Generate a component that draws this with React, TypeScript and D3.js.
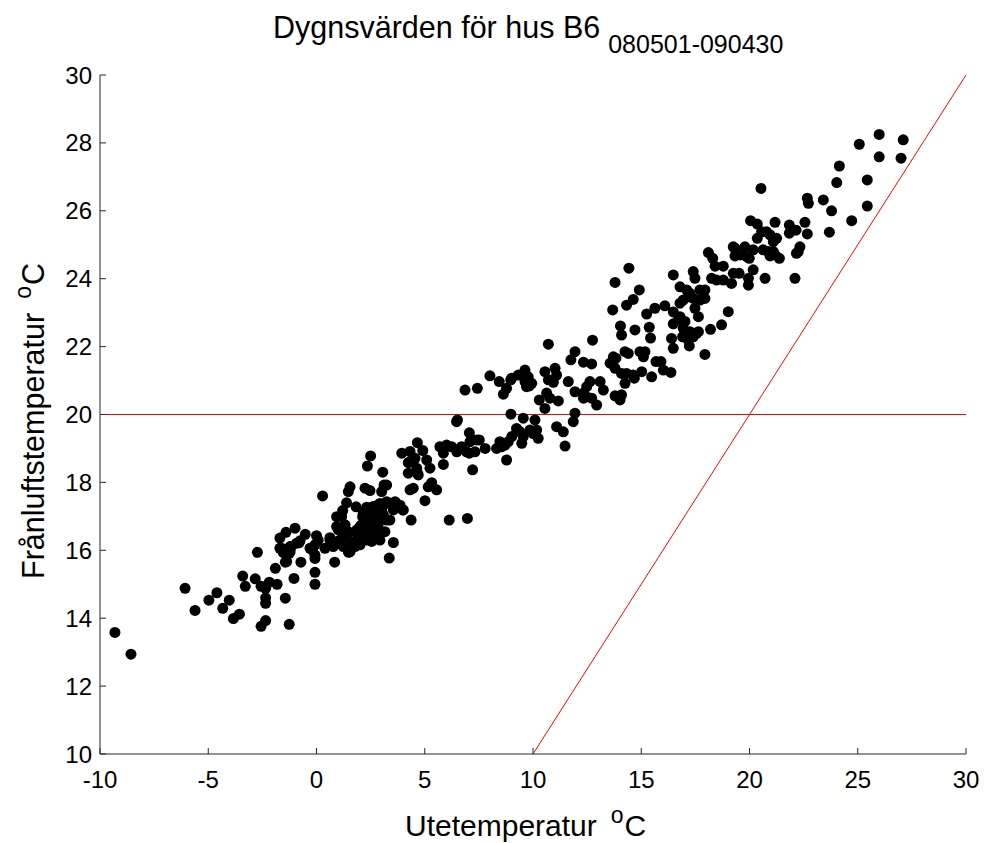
import React from 'react';
import * as d3 from 'd3';

// Tick values
const xTicks = [-10, -5, 0, 5, 10, 15, 20, 25, 30];
const yTicks = [10, 12, 14, 16, 18, 20, 22, 24, 26, 28, 30];

// Reference lines
const setpointLevel = 20; // horizontal red line
const identityLine: [number, number][] = [[10, 10], [30, 30]]; // y = x

// Daily values: [Utetemperatur, Frånluftstemperatur]
const dailyValues: [number, number][] = [
  [-9.31,13.58],[-8.57,12.94],[-6.07,14.88],[-5.61,14.23],[-4.97,14.53],[-4.60,14.75],[-4.33,14.29],[-4.03,14.53],
  [-3.84,13.99],[-3.56,14.12],[-3.41,15.24],[-3.29,14.94],[-2.83,15.16],[-2.73,15.94],[-2.56,14.94],[-2.35,14.88],
  [-2.18,15.06],[-2.35,14.44],[-2.35,13.93],[-2.56,13.76],[-1.82,15.0],[-1.90,15.47],[-1.44,14.59],[-1.26,13.82],
  [-1.44,15.65],[-1.04,15.17],[-0.72,15.65],[-1.61,16.06],[-1.26,15.91],[-1.18,16.09],[-0.07,15.0],[-0.07,15.35],
  [-0.07,15.76],[-0.19,16.01],[0.84,15.65],[1.49,15.94],[0.39,16.06],[-0.81,16.22],[-1.53,15.93],[-2.35,14.6],
  [-1.69,16.36],[-1.41,16.53],[-0.99,16.65],[-0.76,16.28],[-0.52,16.47],[-0.07,15.86],[-0.30,16.06],[0.08,16.30],
  [0.0,16.43],[0.62,16.37],[0.93,16.21],[1.16,16.32],[1.24,16.11],[1.01,16.60],[1.55,15.96],[1.82,16.23],
  [1.32,16.75],[0.93,16.99],[1.21,17.17],[1.39,17.40],[1.83,17.28],[1.86,16.50],[0.28,17.60],
  [6.47,19.79],[7.06,19.46],[7.40,19.25],[7.09,19.20],[4.66,19.17],[3.94,18.86],[4.32,18.91],[4.91,18.94],
  [4.24,18.58],[4.63,18.42],[4.66,18.27],[5.09,18.66],[5.24,18.42],[5.70,19.05],[6.01,19.10],[5.86,18.86],
  [6.48,18.90],[6.93,18.90],[7.32,18.90],[5.86,18.53],[7.21,18.37],[2.50,18.78],[2.35,18.48],[3.06,18.30],
  [3.12,17.92],[3.01,17.73],[3.24,17.92],[1.55,17.87],[1.47,17.73],[2.24,17.83],[2.47,17.76],
  [2.32,17.27],[2.62,17.29],[2.93,17.38],[3.01,17.21],[3.24,17.43],[3.63,17.43],[3.86,17.33],[3.55,17.19],
  [3.98,17.19],[2.13,16.99],[2.39,17.09],[2.01,16.70],[2.09,16.45],[2.32,16.50],[2.55,16.35],[2.62,16.70],
  [2.85,16.75],[3.16,16.55],[1.47,16.55],[1.39,16.35],[1.70,16.21],[3.55,16.23],[3.36,15.77],[4.37,16.89],
  [6.13,16.89],[6.97,16.94],[5.01,17.46],[4.47,17.83],[4.32,17.78],[5.32,17.99],[5.55,17.78],[-0.07,16.16],
  [-0.92,16.21],[-1.69,16.06],[-1.22,15.96],[-1.22,16.11],[-1.38,15.67],[0.77,16.11],[1.09,16.30],
  [0.93,16.70],[1.16,16.99],[1.24,16.60],[2.55,16.26],[2.70,16.50],[2.93,16.30],[1.47,15.96],[2.01,16.21],
  [2.32,16.30],
  [4.32,18.61],[4.55,18.71],[4.24,18.27],[4.70,18.22],[5.16,17.87],[2.55,17.24],[2.78,17.31],[3.32,17.38],
  [4.01,17.19],[2.16,17.09],[2.32,16.95],[2.08,16.75],[2.47,16.75],[2.70,17.0],[2.85,16.89],[3.09,17.04],
  [3.24,16.89],[3.39,16.89],[1.86,16.60],[2.16,16.50],[2.47,16.45],[2.78,16.50],[1.09,16.60],[1.24,16.40],
  [0.93,16.25],[0.62,16.30],[1.39,16.16],[1.62,16.25],[1.78,16.11],[2.01,16.16],
  [10.71,22.07],[12.75,22.19],[11.94,21.85],[11.75,21.61],[12.33,21.54],[12.71,21.49],[13.56,21.51],[8.01,21.14],
  [8.44,20.97],[6.86,20.72],[7.43,20.77],[8.97,21.02],[9.32,21.16],[9.63,21.31],[9.78,21.11],[9.63,20.97],
  [9.94,20.92],[9.70,20.82],[9.83,20.84],[8.78,20.77],[8.63,20.60],[10.55,21.26],[11.02,21.36],[10.71,21.02],
  [10.94,20.95],[11.63,20.97],[10.63,20.63],[10.78,20.48],[10.29,20.43],[10.55,20.18],[11.17,20.40],[11.94,20.67],
  [12.33,20.63],[12.48,20.82],[12.63,20.97],[13.10,20.97],[13.25,20.72],[12.48,20.52],[12.94,20.28],[12.71,20.48],
  [11.94,20.04],[11.86,19.79],[11.09,19.64],[11.40,19.49],[11.48,19.07],[8.98,20.01],[9.55,19.89],[10.09,19.84],
  [9.24,19.59],[9.40,19.49],[9.55,19.35],[9.86,19.54],[10.01,19.44],[10.24,19.30],[10.17,19.54],[9.02,19.35],
  [8.86,19.20],[8.71,19.10],[8.47,19.20],[8.55,19.05],[8.32,19.0],[9.48,19.15],[7.79,19.0],[8.78,18.66],
  [6.51,19.84],[7.17,19.25],[7.52,19.25],[6.55,18.96],[6.70,19.05],[7.06,18.86],
  [14.04,22.61],[14.09,22.34],[14.71,22.49],[15.37,22.57],[15.43,22.25],[16.48,22.67],[17.02,22.74],[17.10,22.39],
  [16.91,22.29],[17.56,22.39],[17.22,22.02],[16.48,21.95],[13.71,21.70],[13.83,21.66],[13.68,21.51],[14.25,21.85],
  [14.40,21.80],[14.94,21.85],[15.17,21.85],[15.10,21.70],[15.68,21.56],[15.91,21.56],[16.02,21.31],[16.37,21.24],
  [15.48,21.11],[13.79,21.36],[14.09,21.21],[14.32,21.21],[14.63,21.16],[15.02,21.26],[14.25,20.92],[13.79,20.55],
  [14.09,20.58],[14.02,20.43],[14.68,21.07],[6.24,19.05],[11.09,21.16],[9.78,20.89],[12.33,20.48],[9.02,21.07],
  [14.43,24.31],[13.79,23.89],[14.91,23.67],[14.63,23.39],[14.32,23.22],[13.68,23.08],[15.25,22.96],[15.63,23.13],
  [16.09,23.20],[16.48,23.02],[16.79,22.88],[16.40,22.24],[16.79,23.28],[16.94,23.37],[17.17,23.47],[16.71,22.78],
  [16.94,22.54],[17.25,22.44],[17.17,22.19],[17.40,22.29],[17.94,21.77],[18.20,22.51],[18.71,22.64],[19.02,23.03],
  [16.48,24.11],[17.40,24.21],[17.48,24.01],[16.79,23.76],[17.10,23.67],[17.25,23.57],[17.40,23.42],[17.48,23.13],
  [17.64,22.88],[17.71,23.67],[17.94,23.67],[17.94,23.42],[17.71,23.37],[17.64,22.44],[18.10,24.77],[18.30,24.60],
  [18.41,24.37],[18.79,24.37],[18.25,24.01],[18.48,23.96],[18.79,23.96],[19.17,23.86],[19.25,24.16],[19.52,24.16],
  [19.25,24.94],[19.79,24.94],[19.56,24.70],[19.87,24.65],[19.95,23.81],
  [20.53,26.66],[24.03,26.83],[25.44,26.91],[22.67,26.37],[22.72,26.22],[23.41,26.32],[23.79,26.0],[25.44,26.14],
  [24.72,25.71],[23.69,25.37],[20.05,25.71],[20.36,25.61],[21.18,25.66],[21.84,25.58],[22.15,25.43],[21.84,25.34],
  [22.56,25.66],[22.67,25.32],[20.56,25.38],[20.79,25.38],[20.95,25.29],[21.25,25.19],[21.10,25.09],[20.36,25.19],
  [20.63,24.85],[20.87,24.80],[21.10,24.80],[20.95,24.67],[21.18,24.70],[21.38,24.60],[22.33,24.94],[22.25,24.80],
  [22.17,24.75],[19.33,24.90],[19.33,24.67],[20.17,24.85],[19.99,24.60],[19.95,24.01],[20.17,24.26],[20.72,24.01],
  [22.10,24.01],
  [25.99,28.25],[27.10,28.09],[25.07,27.96],[25.99,27.59],[27.0,27.55],[24.15,27.32],
];

const W = 984;
const H = 843;
const margin = { left: 100, right: 18, top: 75, bottom: 89 };
const FONT = '"Liberation Sans", Arial, Helvetica, sans-serif';

export default function App() {
  const x = d3.scaleLinear().domain([-10, 30]).range([margin.left, W - margin.right]);
  const y = d3.scaleLinear().domain([10, 30]).range([H - margin.bottom, margin.top]);
  const x0 = x.range()[0];
  const x1 = x.range()[1];
  const y0 = y.range()[0];
  const y1 = y.range()[1];
  const tickLen = 6;
  const axisColor = '#262626';
  const line = d3.line<[number, number]>().x((d) => x(d[0])).y((d) => y(d[1]));

  return (
    <svg width={W} height={H} style={{ position: 'absolute', left: 0, top: 0, background: '#fff' }} fontFamily={FONT}>
      <rect x={0} y={0} width={W} height={H} fill="#fff" />
      {/* reference lines */}
      <line x1={x0} x2={x1} y1={y(setpointLevel)} y2={y(setpointLevel)} stroke="#ff0000" strokeWidth={1} />
      <path d={line(identityLine) || ''} stroke="#ff0000" strokeWidth={1} fill="none" />
      {/* points */}
      <g>
        {dailyValues.map((d, i) => (
          <circle key={i} cx={x(d[0])} cy={y(d[1])} r={5.5} fill="#000" />
        ))}
      </g>
      {/* axes */}
      <line x1={x0} x2={x1} y1={y0} y2={y0} stroke={axisColor} strokeWidth={1} />
      <line x1={x0} x2={x0} y1={y0} y2={y1} stroke={axisColor} strokeWidth={1} />
      {xTicks.map((t) => (
        <g key={'x' + t}>
          <line x1={x(t)} x2={x(t)} y1={y0} y2={y0 - tickLen} stroke={axisColor} strokeWidth={1} />
          <text x={x(t)} y={y0 + 34} textAnchor="middle" fontSize={24} fill="#000">{t}</text>
        </g>
      ))}
      {yTicks.map((t) => (
        <g key={'y' + t}>
          <line x1={x0} x2={x0 + tickLen} y1={y(t)} y2={y(t)} stroke={axisColor} strokeWidth={1} />
          <text x={x0 - 8} y={y(t) + 8.5} textAnchor="end" fontSize={24} fill="#000">{t}</text>
        </g>
      ))}
      {/* title */}
      <text x={273} y={38} fontSize={30.5} fill="#000">
        Dygnsvärden för hus B6
        <tspan dx={8} dy={15} fontSize={25}>080501-090430</tspan>
      </text>
      {/* x label */}
      <text x={405} y={836} fontSize={30} fill="#000">
        Utetemperatur
        <tspan dx={14} dy={-13} fontSize={23}>o</tspan>
        <tspan dx={1} dy={13}>C</tspan>
      </text>
      {/* y label */}
      <text transform={`translate(44, 579) rotate(-90)`} fontSize={30.5} fill="#000">
        Frånluftstemperatur
        <tspan dx={14} dy={-13} fontSize={23}>o</tspan>
        <tspan dx={1} dy={13}>C</tspan>
      </text>
    </svg>
  );
}
